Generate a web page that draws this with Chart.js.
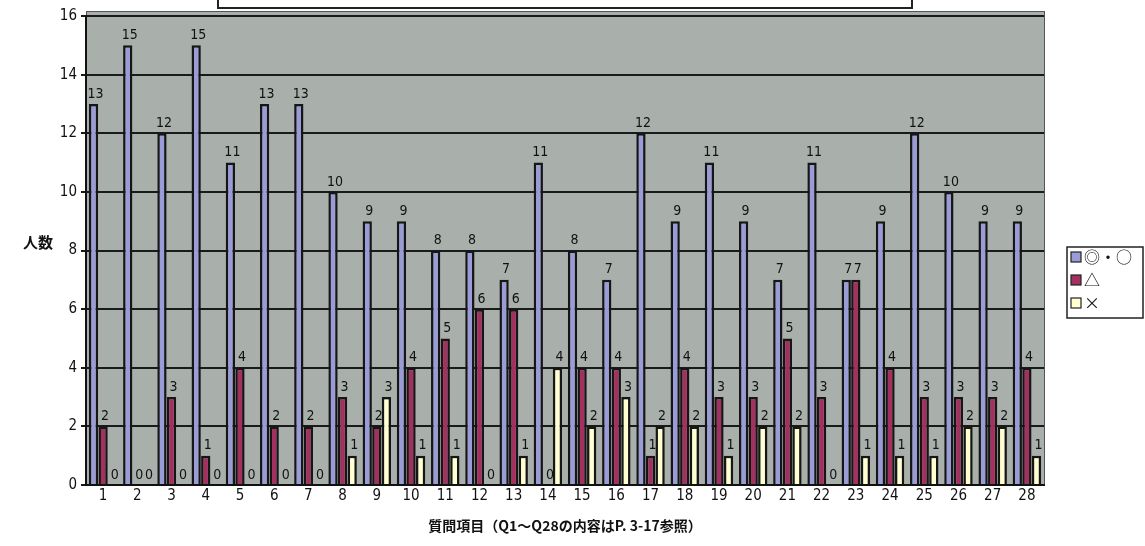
<!DOCTYPE html>
<html>
<head>
<meta charset="utf-8">
<script src="https://cdn.jsdelivr.net/npm/chart.js@4/dist/chart.umd.min.js"></script>
<style>
html,body{margin:0;padding:0;background:#fff;}
#c{display:block;}
</style>
</head>
<body>
<canvas id="c" width="1145" height="546"></canvas>
<script>
const categories = ['1','2','3','4','5','6','7','8','9','10','11','12','13','14','15','16','17','18','19','20','21','22','23','24','25','26','27','28'];
const seriesNames = ['◎・○', '△', '×'];
const goodValues = [13,15,12,15,11,13,13,10,9,9,8,8,7,11,8,7,12,9,11,9,7,11,7,9,12,10,9,9];
const fairValues = [2,0,3,1,4,2,2,3,2,4,5,6,6,0,4,4,1,4,3,3,5,3,7,4,3,3,3,4];
const badValues  = [0,0,0,0,0,0,0,1,3,1,1,0,1,4,2,3,2,2,1,2,2,0,1,1,1,2,2,1];
const yTicks = [0,2,4,6,8,10,12,14,16];
const yTitle = '人数';
const xTitle = '質問項目（Q1～Q28の内容はP. 3-17参照）';

const colors = ['#9a9cd8', '#a3305f', '#ffffd0'];
const numFont = '"DejaVu Sans Condensed", "Noto Sans CJK JP", sans-serif';
const jpFont = '"Noto Sans CJK JP", sans-serif';

const bgPlugin = {
  id: 'bg',
  beforeDraw(chart) {
    const {ctx, chartArea: a} = chart;
    ctx.save();
    ctx.fillStyle = '#a9b0ab';
    ctx.fillRect(a.left, a.top - 5, a.right - a.left, a.bottom - a.top + 5);
    ctx.strokeStyle = '#555';
    ctx.lineWidth = 1;
    ctx.strokeRect(a.left + 0.5, a.top - 4.5, a.right - a.left, a.bottom - a.top + 4);
    // partial title box at the top
    ctx.fillStyle = '#fff';
    ctx.fillRect(217, -4, 695, 13);
    ctx.strokeStyle = '#222';
    ctx.lineWidth = 2;
    ctx.strokeRect(218, -4, 694, 12);
    ctx.restore();
  }
};

const labelPlugin = {
  id: 'vlabels',
  afterDatasetsDraw(chart) {
    const {ctx} = chart;
    ctx.save();
    ctx.font = '14px ' + numFont;
    ctx.fillStyle = '#111';
    ctx.textAlign = 'center';
    ctx.textBaseline = 'bottom';
    chart.data.datasets.forEach((ds, di) => {
      const meta = chart.getDatasetMeta(di);
      meta.data.forEach((el, i) => {
        ctx.fillText(String(ds.data[i]), el.x + 2, el.y - 3);
      });
    });
    // y-axis title, horizontal
    ctx.font = 'bold 15px ' + jpFont;
    ctx.textAlign = 'center';
    ctx.textBaseline = 'middle';
    ctx.fillText(yTitle, 38, 242);
    // legend
    const lx = 1067, ly = 247, lw = 76, lh = 71;
    ctx.strokeStyle = '#222';
    ctx.lineWidth = 1.5;
    ctx.fillStyle = '#fff';
    ctx.fillRect(lx, ly, lw, lh);
    ctx.strokeRect(lx, ly, lw, lh);
    chart.data.datasets.forEach((ds, di) => {
      const cy = ly + 10 + di * 23;
      ctx.fillStyle = ds.backgroundColor;
      ctx.fillRect(lx + 4, cy - 5, 10, 10);
      ctx.strokeStyle = '#222';
      ctx.lineWidth = 1.2;
      ctx.strokeRect(lx + 4, cy - 5, 10, 10);
      ctx.fillStyle = '#111';
      ctx.font = '16px ' + jpFont;
      ctx.textAlign = 'left';
      ctx.textBaseline = 'middle';
      ctx.fillText(ds.label, lx + 17, cy);
    });
    ctx.restore();
  }
};

new Chart(document.getElementById('c'), {
  type: 'bar',
  data: {
    labels: categories,
    datasets: [
      {label: seriesNames[0], data: goodValues, backgroundColor: colors[0]},
      {label: seriesNames[1], data: fairValues, backgroundColor: colors[1]},
      {label: seriesNames[2], data: badValues,  backgroundColor: colors[2]}
    ].map(d => Object.assign(d, {borderColor: '#161616', borderWidth: 2.5, categoryPercentage: 0.84, barPercentage: 0.97}))
  },
  options: {
    responsive: false,
    animation: false,
    devicePixelRatio: 1,
    layout: {padding: {top: 16, right: 101, left: 0, bottom: 0}},
    plugins: {legend: {display: false}, tooltip: {enabled: false}},
    scales: {
      y: {
        min: 0, max: 16,
        afterBuildTicks(scale) { scale.ticks = yTicks.map(v => ({value: v})); },
        afterFit(scale) { scale.width = 86; },
        ticks: {color: '#111', font: {family: numFont, size: 15}, padding: 4},
        grid: {color: '#1a1a1a', lineWidth: 2, tickLength: 5, tickColor: '#1a1a1a'},
        border: {display: true, color: '#111', width: 2}
      },
      x: {
        afterFit(scale) { scale.height = 61; },
        ticks: {color: '#111', font: {family: numFont, size: 15}, padding: 0, maxRotation: 0},
        grid: {display: false, drawTicks: true, tickLength: 2},
        border: {display: true, color: '#111', width: 2},
        title: {display: true, text: xTitle, color: '#111', font: {family: jpFont, size: 14, weight: 'bold'}, padding: {top: 4, bottom: 12}}
      }
    }
  },
  plugins: [bgPlugin, labelPlugin]
});
</script>
</body>
</html>
